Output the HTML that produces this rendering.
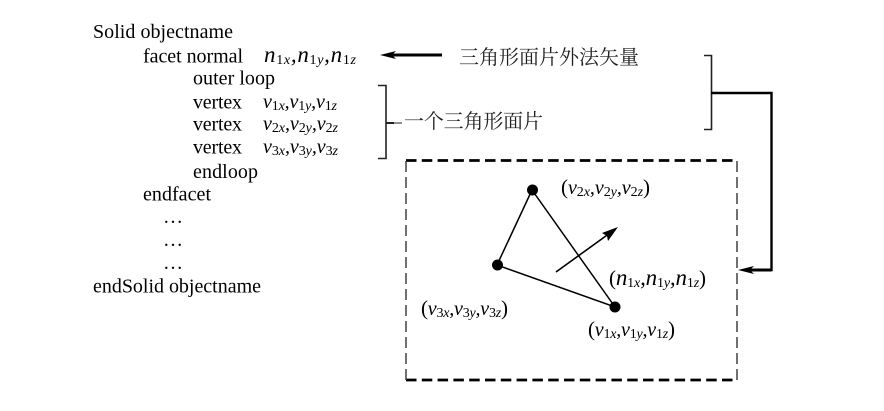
<!DOCTYPE html>
<html><head><meta charset="utf-8"><style>
html,body{margin:0;padding:0;background:#fff}
svg{display:block}
text{font-family:"Liberation Serif","Noto Serif CJK SC",serif;fill:#000}
.t{font-size:20px}
.m{font-size:20px;font-style:italic}
.n{font-size:23px;font-style:italic}
.m tspan.s,.n tspan.s{font-size:14px;font-style:normal;baseline-shift:-1.5px}
.m tspan.i,.n tspan.i{font-size:14px;font-style:italic;baseline-shift:-1.5px}
.p{font-style:normal;font-size:21px}
.c{font-size:20px;fill:#222}
</style></head><body>
<svg width="884" height="411" viewBox="0 0 884 411" xmlns="http://www.w3.org/2000/svg">
<text class="t" x="93" y="38" textLength="140">Solid objectname</text>
<text class="t" x="143" y="62.5" textLength="100">facet normal</text>
<text class="t" x="193" y="84.5" textLength="82">outer loop</text>
<text class="t" x="193" y="108.5" textLength="49">vertex</text>
<text class="t" x="193" y="130.5" textLength="49">vertex</text>
<text class="t" x="193" y="153.5" textLength="49">vertex</text>
<text class="t" x="193" y="178" textLength="65">endloop</text>
<text class="t" x="143" y="200.5" textLength="68">endfacet</text>
<text class="t" x="163" y="223">…</text>
<text class="t" x="163" y="246">…</text>
<text class="t" x="163" y="269">…</text>
<text class="t" x="93" y="292.5" textLength="168">endSolid objectname</text>

<text class="n" x="264" y="62" textLength="92">n<tspan class="s">1</tspan><tspan class="i">x</tspan>,n<tspan class="s">1</tspan><tspan class="i">y</tspan>,n<tspan class="s">1</tspan><tspan class="i">z</tspan></text>
<text class="m" x="263" y="108" textLength="74">v<tspan class="s">1</tspan><tspan class="i">x</tspan>,v<tspan class="s">1</tspan><tspan class="i">y</tspan>,v<tspan class="s">1</tspan><tspan class="i">z</tspan></text>
<text class="m" x="263" y="130" textLength="75">v<tspan class="s">2</tspan><tspan class="i">x</tspan>,v<tspan class="s">2</tspan><tspan class="i">y</tspan>,v<tspan class="s">2</tspan><tspan class="i">z</tspan></text>
<text class="m" x="263" y="153" textLength="75">v<tspan class="s">3</tspan><tspan class="i">x</tspan>,v<tspan class="s">3</tspan><tspan class="i">y</tspan>,v<tspan class="s">3</tspan><tspan class="i">z</tspan></text>

<text class="c" x="459" y="64" textLength="180">三角形面片外法矢量</text>
<text class="c" x="404" y="128" textLength="139">一个三角形面片</text>

<g fill="none" stroke="#222" stroke-width="1.6">
<path d="M378 85.5H386V158.5H378"/>
<path d="M386 123H394" stroke-width="2"/>
<path d="M394 123H402" stroke-width="1"/>
<path d="M704 55.5H711.5V129.5H704"/>
</g>
<g fill="none" stroke="#000">
<path d="M711 93H771.5V270H745" stroke-width="2.4"/>
<path d="M745 270H771.5" stroke-width="3"/>
<path d="M390 55H442" stroke-width="3"/>
<path d="M406 160.5H737" stroke-width="2.8" stroke-dasharray="10.5 5.3"/>
<path d="M406 380H737" stroke-width="2.8" stroke-dasharray="10.5 5.3"/>
<path d="M406 161V380" stroke="#333" stroke-width="1.4" stroke-dasharray="11 5"/>
<path d="M737 161V380" stroke="#333" stroke-width="1.4" stroke-dasharray="11 5"/>
<path d="M532 190L497 265L615 307Z" stroke-width="1.5"/>
<path d="M556 272L610 233" stroke-width="1.6"/>
</g>
<path d="M380 55L396 51L392 55L396 59Z" fill="#000"/>
<path d="M738 270L754 266L750 270L754 274Z" fill="#000"/>
<path d="M618 227L602 233L607 236L608 241Z" fill="#000"/>
<circle cx="532.5" cy="190" r="5.5" fill="#000"/>
<circle cx="497.5" cy="265" r="5.5" fill="#000"/>
<circle cx="615" cy="307" r="5.5" fill="#000"/>

<text class="m" x="561" y="194" textLength="89"><tspan class="p">(</tspan>v<tspan class="s">2</tspan><tspan class="i">x</tspan>,v<tspan class="s">2</tspan><tspan class="i">y</tspan>,v<tspan class="s">2</tspan><tspan class="i">z</tspan><tspan class="p">)</tspan></text>
<text class="n" x="609" y="285" textLength="97"><tspan class="p">(</tspan>n<tspan class="s">1</tspan><tspan class="i">x</tspan>,n<tspan class="s">1</tspan><tspan class="i">y</tspan>,n<tspan class="s">1</tspan><tspan class="i">z</tspan><tspan class="p">)</tspan></text>
<text class="m" x="421" y="315" textLength="87"><tspan class="p">(</tspan>v<tspan class="s">3</tspan><tspan class="i">x</tspan>,v<tspan class="s">3</tspan><tspan class="i">y</tspan>,v<tspan class="s">3</tspan><tspan class="i">z</tspan><tspan class="p">)</tspan></text>
<text class="m" x="588" y="336" textLength="87"><tspan class="p">(</tspan>v<tspan class="s">1</tspan><tspan class="i">x</tspan>,v<tspan class="s">1</tspan><tspan class="i">y</tspan>,v<tspan class="s">1</tspan><tspan class="i">z</tspan><tspan class="p">)</tspan></text>
</svg>
</body></html>
